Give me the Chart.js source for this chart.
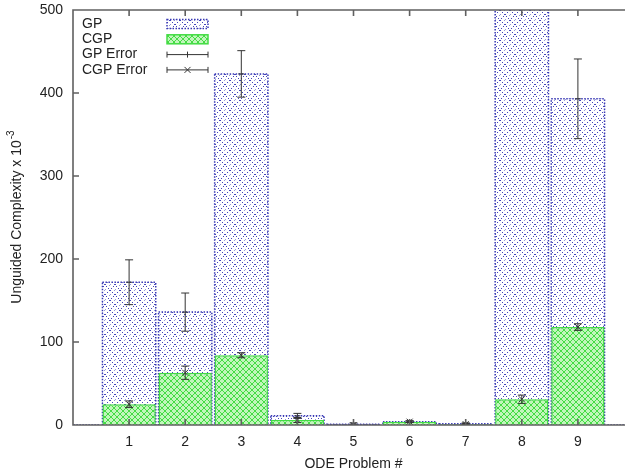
<!DOCTYPE html>
<html>
<head>
<meta charset="utf-8">
<script src="https://cdn.jsdelivr.net/npm/chart.js@4.4.1/dist/chart.umd.min.js"></script>
<style>
  html, body { margin: 0; padding: 0; background: #fff; overflow: hidden; }
  #wrap { width: 640px; height: 474px; }
</style>
</head>
<body>
<div id="wrap"><canvas id="odeChart" width="640" height="474"></canvas></div>
<script>
// ODE problems on the x axis
const problems = ["1", "2", "3", "4", "5", "6", "7", "8", "9"];
// unguided complexity (x 10^-3), mean and error per problem
const gpMean = [172, 136, 423, 11, 1, 4, 1.5, 560, 393];
const gpErr = [27, 23, 28, 3, 1.5, 1, 1, 40, 48];
const cgpMean = [25, 63, 84, 6, 0, 4, 1, 31, 118];
const cgpErr = [4, 8, 3, 3, 0, 1, 1, 5, 4];
const yTicks = [0, 100, 200, 300, 400, 500];

const FONT = "'Liberation Sans', Arial, sans-serif";
const TEXT = "#222";
const FRAME = "#606060";

// gnuplot-like fill patterns
function makePattern(size, bg, fg, step, centre) {
    const c = document.createElement("canvas");
    c.width = size;
    c.height = size;
    const g = c.getContext("2d");
    g.fillStyle = bg;
    g.fillRect(0, 0, size, size);
    g.fillStyle = fg;
    for (let i = 0; i < size; i += step) {
        g.fillRect(i, i, 1, 1);
        g.fillRect(size - 1 - i, i, 1, 1);
    }
    if (centre) {
        // faint cross in the middle of each diamond
        g.fillStyle = centre;
        const h = size / 2;
        g.fillRect(0, h - 1, 1, 1);
        g.fillRect(size - 1, h, 1, 1);
        g.fillRect(h - 1, 0, 1, 1);
        g.fillRect(h, size - 1, 1, 1);
    }
    return g.createPattern(c, "repeat");
}
const gpFill = makePattern(10, "#ffffff", "#4646bc", 2, "#9a9ad8");
const cgpFill = makePattern(6, "#c2f6bc", "#44dc44", 1, null);

// padded labels so problem k sits at x = k on a 0..10 axis
const labels = [""].concat(problems, [""]);
const pad = arr => [null].concat(arr, [null]);

function drawFrame(chart) {
    const ctx = chart.ctx;
    const a = chart.chartArea;
    const xs = chart.scales.x;
    const ys = chart.scales.y;
    ctx.save();
    ctx.setLineDash([]);
    ctx.strokeStyle = FRAME;
    ctx.lineWidth = 1.6;
    ctx.beginPath();
    ctx.moveTo(a.left, a.top);
    ctx.lineTo(a.right, a.top);
    ctx.lineTo(a.right, a.bottom);
    ctx.lineTo(a.left, a.bottom);
    ctx.closePath();
    // inward ticks, mirrored on top and right
    yTicks.forEach(v => {
        const y = ys.getPixelForValue(v);
        ctx.moveTo(a.left, y); ctx.lineTo(a.left + 6, y);
        ctx.moveTo(a.right, y); ctx.lineTo(a.right - 6, y);
    });
    problems.forEach((p, i) => {
        const x = xs.getPixelForValue(i + 1);
        ctx.moveTo(x, a.bottom); ctx.lineTo(x, a.bottom - 6);
        ctx.moveTo(x, a.top); ctx.lineTo(x, a.top + 6);
    });
    ctx.stroke();
    ctx.restore();
}

function drawErrorBars(chart) {
    const ctx = chart.ctx;
    const a = chart.chartArea;
    const xs = chart.scales.x;
    const ys = chart.scales.y;
    ctx.save();
    ctx.beginPath();
    ctx.rect(a.left, a.top, a.right - a.left, a.bottom - a.top);
    ctx.clip();
    ctx.strokeStyle = "#333";
    ctx.lineWidth = 1;
    const series = [[gpMean, gpErr, "plus"], [cgpMean, cgpErr, "cross"]];
    series.forEach(([mean, err, mark]) => {
        mean.forEach((m, i) => {
            const x = xs.getPixelForValue(i + 1);
            const y0 = ys.getPixelForValue(m - err[i]);
            const y1 = ys.getPixelForValue(m + err[i]);
            const ym = ys.getPixelForValue(m);
            ctx.beginPath();
            ctx.moveTo(x, y0); ctx.lineTo(x, y1);
            ctx.moveTo(x - 4, y0); ctx.lineTo(x + 4, y0);
            ctx.moveTo(x - 4, y1); ctx.lineTo(x + 4, y1);
            if (mark === "cross") {
                ctx.moveTo(x - 3, ym - 3); ctx.lineTo(x + 3, ym + 3);
                ctx.moveTo(x - 3, ym + 3); ctx.lineTo(x + 3, ym - 3);
            } else {
                ctx.moveTo(x - 3, ym); ctx.lineTo(x + 3, ym);
            }
            ctx.stroke();
        });
    });
    ctx.restore();
}

function drawLegend(chart) {
    const ctx = chart.ctx;
    ctx.save();
    ctx.font = "14px " + FONT;
    ctx.textBaseline = "middle";
    ctx.textAlign = "left";
    const rows = ["GP", "CGP", "GP Error", "CGP Error"];
    const sx0 = 167, sx1 = 208;
    rows.forEach((t, i) => {
        const y = 24 + i * 15.3;
        ctx.fillStyle = TEXT;
        ctx.fillText(t, 82, y);
        ctx.lineWidth = 1.5;
        if (i === 0) {
            ctx.fillStyle = gpFill;
            ctx.fillRect(sx0, y - 4.5, sx1 - sx0, 9);
            ctx.setLineDash([1.5, 1.5]);
            ctx.strokeStyle = "#3a3ab5";
            ctx.strokeRect(sx0, y - 4.5, sx1 - sx0, 9);
            ctx.setLineDash([]);
        } else if (i === 1) {
            ctx.fillStyle = cgpFill;
            ctx.fillRect(sx0, y - 4.5, sx1 - sx0, 9);
            ctx.strokeStyle = "#44dc44";
            ctx.strokeRect(sx0, y - 4.5, sx1 - sx0, 9);
        } else {
            const mid = (sx0 + sx1) / 2;
            ctx.strokeStyle = "#333";
            ctx.lineWidth = 1;
            ctx.beginPath();
            ctx.moveTo(sx0, y); ctx.lineTo(sx1, y);
            ctx.moveTo(sx0, y - 3); ctx.lineTo(sx0, y + 3);
            ctx.moveTo(sx1, y - 3); ctx.lineTo(sx1, y + 3);
            if (i === 2) {
                ctx.moveTo(mid, y - 3); ctx.lineTo(mid, y + 3);
            } else {
                ctx.moveTo(mid - 3, y - 3); ctx.lineTo(mid + 3, y + 3);
                ctx.moveTo(mid - 3, y + 3); ctx.lineTo(mid + 3, y - 3);
            }
            ctx.stroke();
        }
    });
    ctx.restore();
}

function drawYTitle(chart) {
    const ctx = chart.ctx;
    const a = chart.chartArea;
    ctx.save();
    ctx.translate(17, (a.top + a.bottom) / 2);
    ctx.rotate(-Math.PI / 2);
    ctx.fillStyle = TEXT;
    ctx.textBaseline = "middle";
    ctx.textAlign = "left";
    const main = "Unguided Complexity x 10";
    ctx.font = "14px " + FONT;
    const w1 = ctx.measureText(main).width;
    ctx.font = "10px " + FONT;
    const w2 = ctx.measureText("-3").width;
    const start = -(w1 + w2) / 2;
    ctx.font = "14px " + FONT;
    ctx.fillText(main, start, 0);
    ctx.font = "10px " + FONT;
    ctx.fillText("-3", start + w1 + 1, -6);
    ctx.restore();
}

const gnuplotLook = {
    id: "gnuplotLook",
    afterDatasetDraw(chart, args) {
        // dotted outline for the GP bars, drawn before CGP covers them
        if (chart.data.datasets[args.index].label !== "GP") return;
        const ctx = chart.ctx;
        const a = chart.chartArea;
        ctx.save();
        ctx.beginPath();
        ctx.rect(a.left, a.top, a.right - a.left, a.bottom - a.top);
        ctx.clip();
        ctx.strokeStyle = "#3a3ab5";
        ctx.lineWidth = 1.5;
        ctx.setLineDash([1.5, 1.5]);
        args.meta.data.forEach(bar => {
            if (bar.skip) return;
            const p = bar.getProps(["x", "y", "base", "width"], true);
            ctx.strokeRect(p.x - p.width / 2, p.y, p.width, p.base - p.y);
        });
        ctx.restore();
    },
    afterDraw(chart) {
        drawErrorBars(chart);
        drawFrame(chart);
        drawLegend(chart);
        drawYTitle(chart);
    }
};

new Chart(document.getElementById("odeChart"), {
    type: "bar",
    data: {
        labels: labels,
        datasets: [
            {
                label: "CGP",
                data: pad(cgpMean),
                backgroundColor: cgpFill,
                borderColor: "#44dc44",
                borderWidth: 1.5,
                borderSkipped: "bottom",
                barPercentage: 0.95,
                categoryPercentage: 1.0
            },
            {
                label: "GP",
                data: pad(gpMean),
                backgroundColor: gpFill,
                borderWidth: 0,
                barPercentage: 0.95,
                categoryPercentage: 1.0
            }
        ]
    },
    options: {
        responsive: false,
        animation: false,
        grouped: false,
        layout: { padding: { top: 10, right: 6, left: 0, bottom: 0 } },
        plugins: {
            legend: { display: false },
            tooltip: { enabled: false }
        },
        scales: {
            x: {
                offset: false,
                grid: { display: false, drawTicks: false },
                border: { display: false },
                ticks: { color: TEXT, font: { family: FONT, size: 14 }, padding: 9, autoSkip: false, maxRotation: 0 },
                title: { display: true, text: "ODE Problem #", color: TEXT, font: { family: FONT, size: 14 }, padding: { top: 0, bottom: 1 } },
                afterFit(scale) { scale.height = 49; scale.paddingLeft = 0; scale.paddingRight = 0; }
            },
            y: {
                min: 0,
                max: 500,
                grid: { display: false, drawTicks: false },
                border: { display: false },
                afterBuildTicks(scale) { scale.ticks = yTicks.map(v => ({ value: v })); },
                ticks: { color: TEXT, font: { family: FONT, size: 14 }, padding: 10 },
                afterFit(scale) { scale.width = 73; scale.paddingTop = 0; scale.paddingBottom = 0; }
            }
        }
    },
    plugins: [gnuplotLook]
});
</script>
</body>
</html>
